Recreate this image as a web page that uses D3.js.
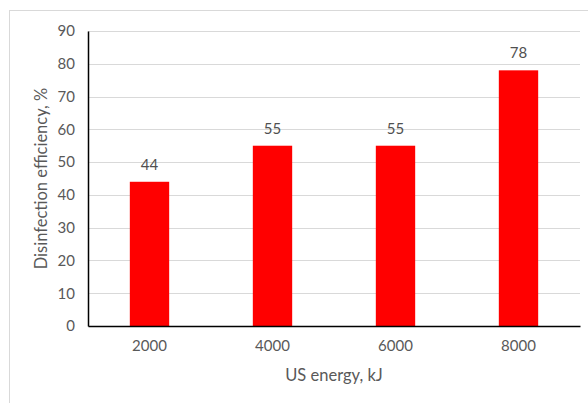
<!DOCTYPE html>
<html>
<head>
<meta charset="utf-8">
<script src="https://cdn.jsdelivr.net/npm/d3@7"></script>
<style>
  html, body { margin: 0; padding: 0; background: #fff; }
  svg { display: block; font-family: Lato, "Open Sans", sans-serif; }
</style>
</head>
<body>
<svg id="chart" width="588" height="403"></svg>
<script>
// Disinfection efficiency at each ultrasound energy level
const categories = ["2000", "4000", "6000", "8000"];
const efficiency = [44, 55, 55, 78];
const yTicks = [0, 10, 20, 30, 40, 50, 60, 70, 80, 90];

const svg = d3.select("#chart");
const margin = { left: 88, right: 8, top: 31, bottom: 77 };
const W = 588, H = 403;
const font = "Lato, 'Open Sans', sans-serif";

// outer chart frame
svg.append("rect")
  .attr("x", 9.5).attr("y", 10.5)
  .attr("width", 600).attr("height", 420)
  .attr("fill", "none").attr("stroke", "#d9d9d9").attr("stroke-width", 1);

const x = d3.scaleBand()
  .domain(categories)
  .range([margin.left, W - margin.right])
  .paddingInner(0.68).paddingOuter(0.34);

const y = d3.scaleLinear()
  .domain([0, 90])
  .range([H - margin.bottom, margin.top]);

const textColor = "#595959";

// horizontal gridlines
svg.append("g")
  .selectAll("line")
  .data(yTicks.filter(d => d > 0))
  .join("line")
  .attr("x1", margin.left).attr("x2", W - margin.right)
  .attr("y1", d => Math.round(y(d)) + 0.5).attr("y2", d => Math.round(y(d)) + 0.5)
  .attr("stroke", "#d9d9d9").attr("stroke-width", 1);

// bars
svg.append("g")
  .selectAll("rect")
  .data(categories)
  .join("rect")
  .attr("x", d => x(d))
  .attr("y", (d, i) => y(efficiency[i]))
  .attr("width", x.bandwidth())
  .attr("height", (d, i) => y(0) - y(efficiency[i]))
  .attr("fill", "#ff0000");

// value labels above bars
svg.append("g")
  .selectAll("text")
  .data(categories)
  .join("text")
  .attr("x", d => x(d) + x.bandwidth() / 2)
  .attr("y", (d, i) => y(efficiency[i]) - 12)
  .attr("text-anchor", "middle")
  .attr("fill", "#505050")
  .attr("font-size", 15)
  .text((d, i) => efficiency[i]);

// y axis
const yAxis = svg.append("g")
  .attr("transform", `translate(${margin.left},0)`)
  .call(d3.axisLeft(y).tickValues(yTicks).tickSize(0).tickPadding(13));
yAxis.select(".domain").attr("stroke", "#000").attr("stroke-width", 1.5);
yAxis.selectAll("text").attr("fill", textColor).attr("font-size", 15)
  .attr("font-family", font);

// x axis
const xAxis = svg.append("g")
  .attr("transform", `translate(0,${y(0)})`)
  .call(d3.axisBottom(x).tickSize(0).tickPadding(14));
xAxis.select(".domain").attr("stroke", "#000").attr("stroke-width", 1.5);
xAxis.selectAll("text").attr("fill", textColor).attr("font-size", 15)
  .attr("font-family", font);

// axis titles
svg.append("text")
  .attr("x", (margin.left + W - margin.right) / 2)
  .attr("y", 381)
  .attr("text-anchor", "middle")
  .attr("fill", textColor)
  .attr("font-size", 16.5)
  .text("US energy, kJ");

svg.append("text")
  .attr("transform", `translate(47,${(y(0) + y(90)) / 2}) rotate(-90)`)
  .attr("text-anchor", "middle")
  .attr("fill", textColor)
  .attr("font-size", 16.5)
  .text("Disinfection efficiency, %");
</script>
</body>
</html>
